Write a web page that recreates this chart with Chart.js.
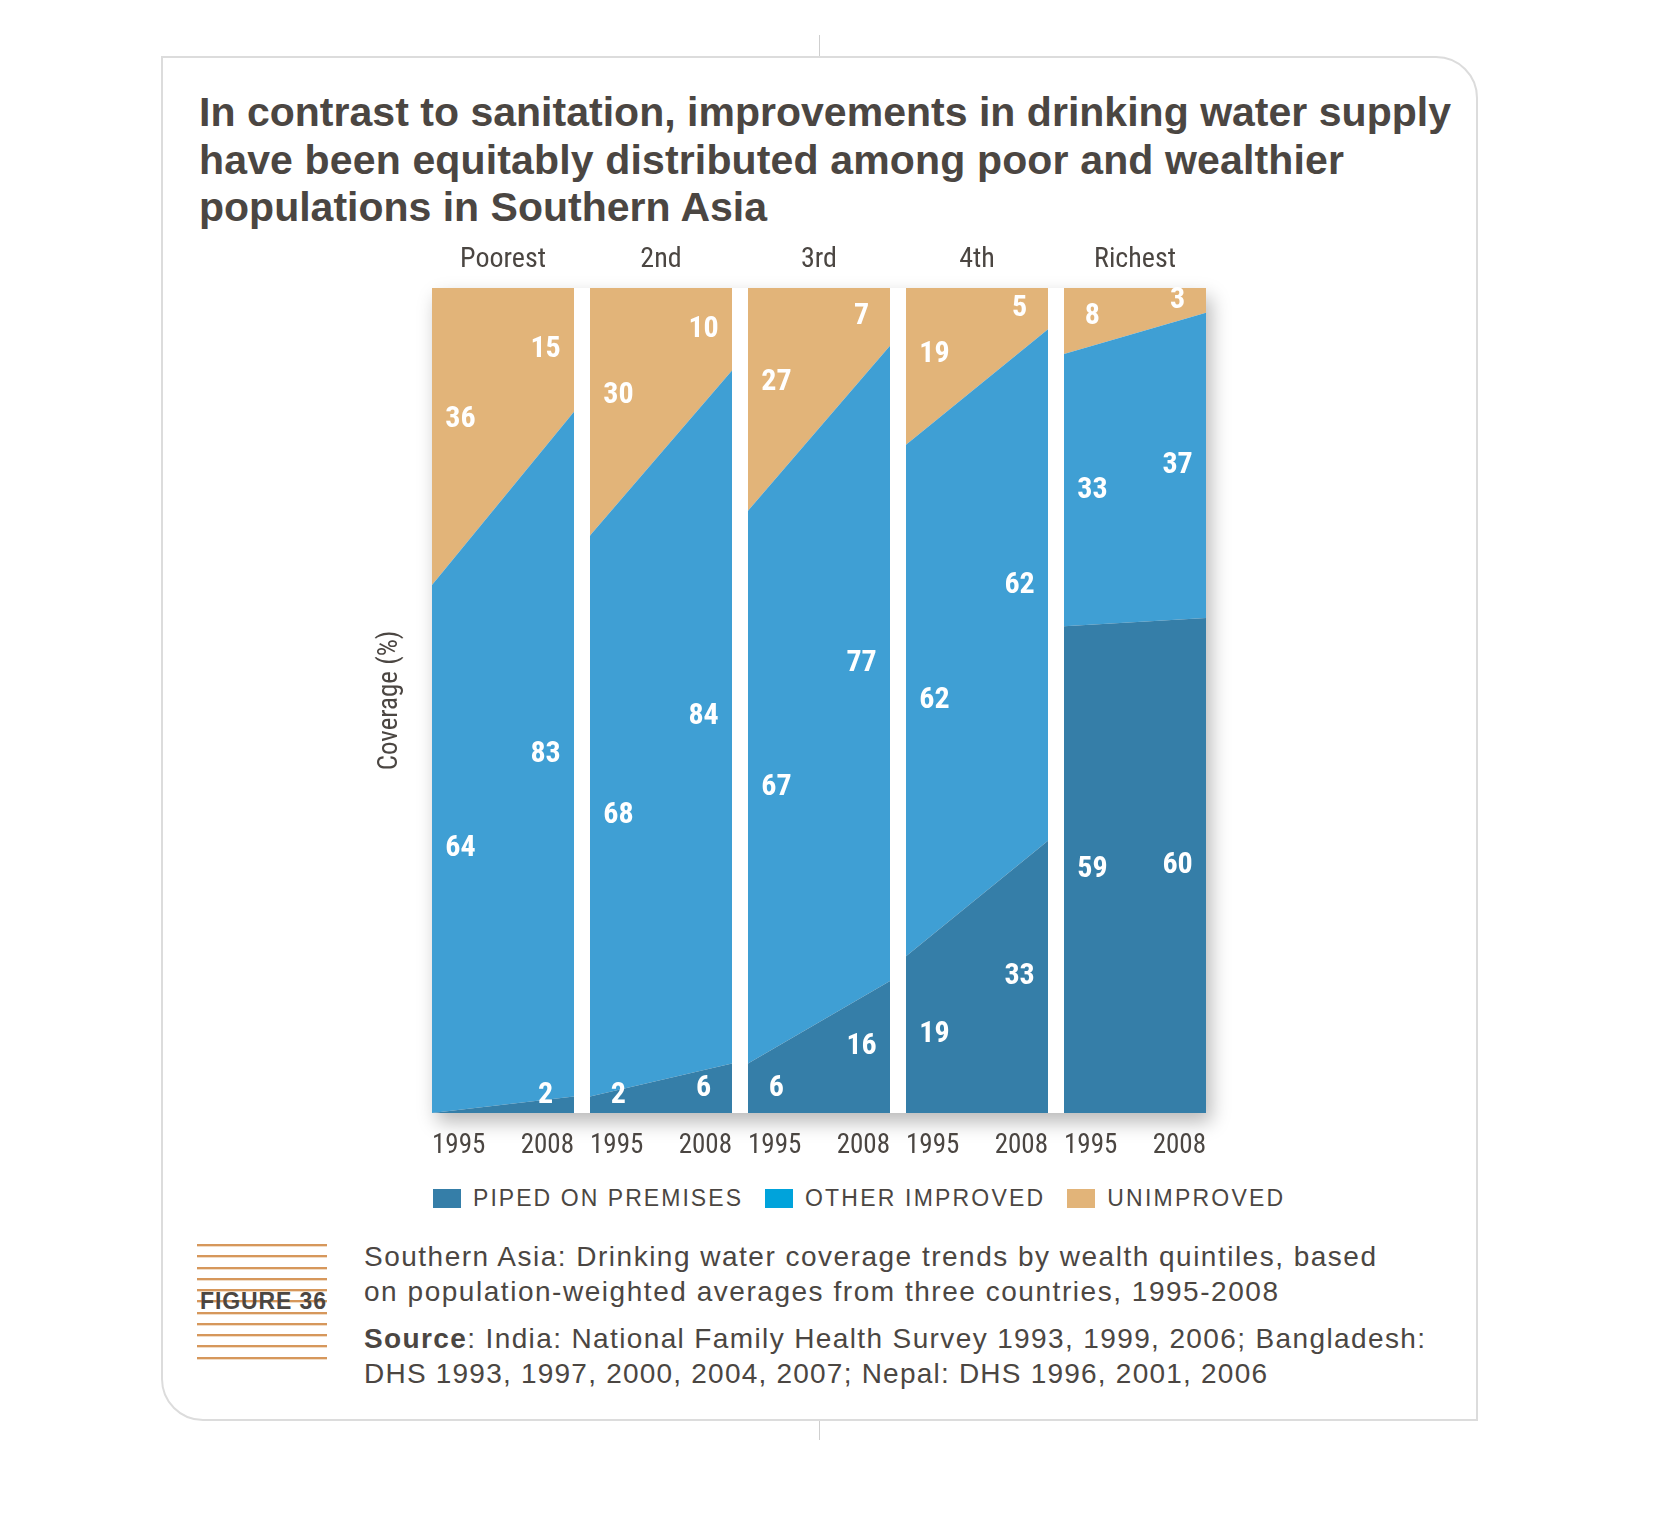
<!DOCTYPE html>
<html>
<head>
<meta charset="utf-8">
<script src="https://cdn.jsdelivr.net/npm/chart.js@4.4.1/dist/chart.umd.min.js"></script>
<style>
  html, body { margin: 0; padding: 0; background: #fff; }
  #page { position: relative; width: 1658px; height: 1530px; overflow: hidden;
          font-family: "Liberation Sans", Arial, sans-serif; color: #4b4642; }
  .card { position: absolute; left: 161px; top: 56px; width: 1317px; height: 1365px;
          box-sizing: border-box; border: 2px solid #dcdcdc; border-radius: 0 42px 0 42px; }
  .vtick { position: absolute; left: 819px; width: 1px; background: #cfcfcf; }
  .title { position: absolute; left: 199px; top: 89px; font-weight: bold; font-size: 41px;
           line-height: 47.5px; white-space: nowrap; }
  .fit { display: inline-block; white-space: nowrap; }
  .shadow { position: absolute; left: 432px; top: 288px; width: 774px; height: 825px;
            background: #fff; box-shadow: 5px 9px 18px rgba(0,0,0,0.28); }
  .panel { position: absolute; top: 239px; height: 923px; }
  .legend { position: absolute; left: 433px; top: 1186px; height: 24px; display: flex;
            align-items: center; font-size: 23px; white-space: nowrap; }
  .legend .box { width: 28px; height: 19px; margin-right: 12px; }
  .legend .txt { margin-right: 22px; }
  .figlines { position: absolute; left: 197px; width: 130px; }
  .figlabel { position: absolute; left: 200px; top: 1290px; font-weight: bold; font-size: 23px;
              line-height: 23px; }
  .caption { position: absolute; left: 364px; top: 1239px; font-size: 28px; line-height: 35px; }
  .caption p { margin: 0; }
  .caption p + p { margin-top: 11.6px; }
</style>
</head>
<body>
<div id="page">
  <div class="vtick" style="top:35px;height:22px"></div>
  <div class="vtick" style="top:1421px;height:19px"></div>
  <div class="card"></div>

  <div class="title">
    <div><span class="fit" data-w="1252">In contrast to sanitation, improvements in drinking water supply</span></div>
    <div><span class="fit" data-w="1145">have been equitably distributed among poor and wealthier</span></div>
    <div><span class="fit" data-w="568">populations in Southern Asia</span></div>
  </div>

  <div class="shadow"></div>

  <div class="legend" id="legend"></div>

  <div class="figlabel"><span class="fit" data-w="126">FIGURE 36</span></div>

  <div class="caption">
    <p><span class="fit" data-w="1012">Southern Asia: Drinking water coverage trends by wealth quintiles, based</span><br>
       <span class="fit" data-w="914">on population-weighted averages from three countries, 1995-2008</span></p>
    <p><span class="fit" data-w="1061"><b>Source</b>: India: National Family Health Survey 1993, 1999, 2006; Bangladesh:</span><br>
       <span class="fit" data-w="903">DHS 1993, 1997, 2000, 2004, 2007; Nepal: DHS 1996, 2001, 2006</span></p>
  </div>
</div>

<script>
// Wealth quintiles and survey years
const quintiles = ['Poorest', '2nd', '3rd', '4th', 'Richest'];
const years = ['1995', '2008'];

// Coverage (%) per quintile: [1995, 2008]
const piped         = [[0, 2],  [2, 6],  [6, 16],  [19, 33], [59, 60]];
const otherImproved = [[64, 83], [68, 84], [67, 77], [62, 62], [33, 37]];
const unimproved    = [[36, 15], [30, 10], [27, 7],  [19, 5],  [8, 3]];

const seriesNames = ['PIPED ON PREMISES', 'OTHER IMPROVED', 'UNIMPROVED'];
const areaColors = ['#357ea8', '#3f9fd4', '#e2b479'];
const legendColors = ['#357ea8', '#00a3db', '#e2b479'];
const TXT = '#4b4642';

function hasFont(f) {
  const c = document.createElement('canvas').getContext('2d');
  const s = 'Coverage 1995 abcdefghijklmnop';
  c.font = '30px monospace';
  const w1 = c.measureText(s).width;
  c.font = '30px "' + f + '", monospace';
  return c.measureText(s).width !== w1;
}
const candidates = ['Liberation Sans Narrow', 'Roboto Condensed', 'Open Sans Condensed', 'DejaVu Sans Condensed'];
const found = candidates.filter(hasFont);
const NARROW = found.length ? '"' + found[0] + '"' : '"Liberation Sans"';
const SQUEEZE = found.length ? 1 : 0.8;

// white value labels inside the areas
const valueLabels = {
  id: 'valueLabels',
  afterDatasetsDraw(chart) {
    const { ctx, chartArea: a, scales: { x, y } } = chart;
    const sets = chart.data.datasets.map(d => d.data);
    const x0 = x.getPixelForValue(0), x1 = x.getPixelForValue(1);
    ctx.save();
    ctx.fillStyle = '#fff';
    ctx.font = 'bold 30px ' + NARROW;
    ctx.textAlign = 'center';
    ctx.textBaseline = 'middle';
    [0, 1].forEach(i => {
      const px = x0 + (x1 - x0) * (i === 0 ? 0.2 : 0.8);
      let base = [0, 0];
      sets.forEach((vals, d) => {
        // top band on the 1995 side follows the slope toward the label
        const t = (i === 0 && d === sets.length - 1) ? 0.2 : i;
        const lo = base[0] + (base[1] - base[0]) * t;
        const top = [base[0] + vals[0], base[1] + vals[1]];
        const hi = top[0] + (top[1] - top[0]) * t;
        base = top;
        const v = vals[i];
        if (!v) return;
        let py = (y.getPixelForValue(lo) + y.getPixelForValue(hi)) / 2;
        py = Math.min(py, a.bottom - 17);
        ctx.save();
        ctx.translate(px, py);
        ctx.scale(SQUEEZE, 1);
        ctx.fillText(String(v), 0, 0);
        ctx.restore();
      });
    });
    ctx.restore();
  }
};

const page = document.getElementById('page');

function makePanel(idx) {
  const first = idx === 0;
  const left = 432 + idx * 158;
  const box = document.createElement('div');
  box.className = 'panel';
  box.style.left = (first ? left - 65 : left) + 'px';
  box.style.width = (first ? 207 : 142) + 'px';
  const cv = document.createElement('canvas');
  box.appendChild(cv);
  page.appendChild(box);

  new Chart(cv, {
    type: 'line',
    data: {
      labels: years,
      datasets: [
        { label: seriesNames[0], data: piped[idx], backgroundColor: areaColors[0], fill: 'origin' },
        { label: seriesNames[1], data: otherImproved[idx], backgroundColor: areaColors[1], fill: '-1' },
        { label: seriesNames[2], data: unimproved[idx], backgroundColor: areaColors[2], fill: '-1' }
      ]
    },
    options: {
      responsive: true,
      maintainAspectRatio: false,
      animation: false,
      layout: { padding: 0, autoPadding: false },
      elements: { line: { borderWidth: 0, tension: 0 }, point: { radius: 0, hitRadius: 0 } },
      plugins: {
        legend: { display: false },
        tooltip: { enabled: false },
        title: {
          display: true, fullSize: false, text: quintiles[idx], color: TXT,
          font: { family: NARROW, size: 28, weight: 'normal' },
          padding: { top: 4.2, bottom: 11.3 }
        }
      },
      scales: {
        x: {
          offset: false,
          grid: { display: false, drawTicks: true, tickLength: 16.7 },
          border: { display: false },
          ticks: { align: 'inner', color: TXT, padding: 0, maxRotation: 0, autoSkip: false,
                   font: { family: NARROW, size: 27 } }
        },
        y: {
          stacked: true, min: 0, max: 100, display: first,
          grid: { display: false, drawTicks: false },
          border: { display: false },
          ticks: { display: false },
          title: { display: first, text: 'Coverage (%)', color: TXT,
                   font: { family: NARROW, size: 27 }, padding: { top: 6.8, bottom: 25.8 } }
        }
      }
    },
    plugins: [valueLabels]
  });
}
quintiles.forEach((q, i) => makePanel(i));

// legend
const legend = document.getElementById('legend');
const legendWidths = [268, 238, 176];
seriesNames.forEach((name, i) => {
  const b = document.createElement('div');
  b.className = 'box';
  b.style.background = legendColors[i];
  const t = document.createElement('span');
  t.className = 'txt fit';
  t.dataset.w = legendWidths[i];
  t.textContent = name;
  legend.appendChild(b);
  legend.appendChild(t);
});

// figure number rules
const figLabel = page.querySelector('.figlabel');
for (let k = 0; k < 11; k++) {
  const y = 1244 + k * 11.27;
  const l = document.createElement('div');
  l.className = 'figlines';
  l.style.top = y + 'px';
  l.style.height = '2px';
  l.style.background = '#d6975b';
  page.insertBefore(l, figLabel);
  const l2 = document.createElement('div');
  l2.className = 'figlines';
  l2.style.top = (y + 2) + 'px';
  l2.style.height = '1px';
  l2.style.background = '#f1dcc6';
  page.insertBefore(l2, figLabel);
}

// fit text runs to the measured widths
document.querySelectorAll('.fit').forEach(el => {
  const w = +el.dataset.w;
  const nat = el.getBoundingClientRect().width;
  const n = el.textContent.length;
  el.style.letterSpacing = ((w - nat) / (n - 1)) + 'px';
});
</script>
</body>
</html>
